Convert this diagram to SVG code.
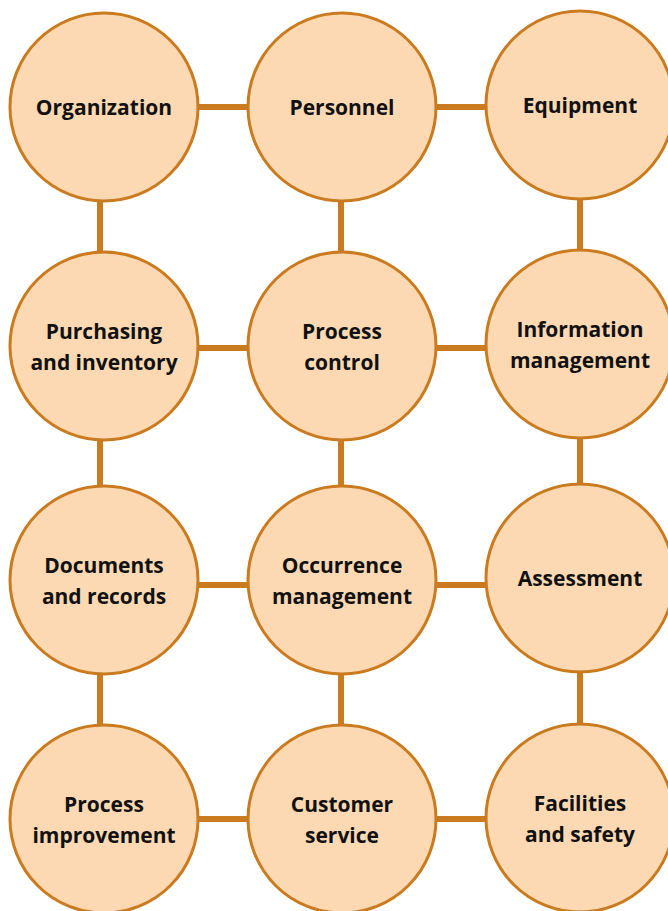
<svg xmlns="http://www.w3.org/2000/svg" width="668" height="911" viewBox="0 0 668 911">
<style>
.c{fill:#FCD9B3;stroke:#CB7B1F;stroke-width:3}
.l{stroke:#CB7B1F;stroke-width:6;fill:none}
text{font-family:"Open Sans","Noto Sans","Liberation Sans",sans-serif;font-weight:700;font-size:21px;fill:#111;text-anchor:middle}
</style>
<rect width="668" height="911" fill="#fff"/>
<g id="connectors" class="l">
<line x1="104" y1="107" x2="580" y2="107"/>
<line x1="104" y1="348" x2="580" y2="348"/>
<line x1="104" y1="585" x2="580" y2="585"/>
<line x1="104" y1="819" x2="580" y2="819"/>
<line x1="100" y1="107" x2="100" y2="819"/>
<line x1="341" y1="107" x2="341" y2="819"/>
<line x1="580" y1="105" x2="580" y2="818"/>
</g>
<g id="organization"><circle class="c" cx="104" cy="107" r="94"/><text x="104" y="115">Organization</text></g>
<g id="personnel"><circle class="c" cx="342" cy="107" r="94"/><text x="342" y="115">Personnel</text></g>
<g id="equipment"><circle class="c" cx="580" cy="105" r="94"/><text x="580" y="113">Equipment</text></g>
<g id="purchasing"><circle class="c" cx="104" cy="346" r="94"/><text x="104" y="339">Purchasing</text><text x="104" y="370">and inventory</text></g>
<g id="process-control"><circle class="c" cx="342" cy="346" r="94"/><text x="342" y="339">Process</text><text x="342" y="370">control</text></g>
<g id="information"><circle class="c" cx="580" cy="344" r="94"/><text x="580" y="337">Information</text><text x="580" y="368">management</text></g>
<g id="documents"><circle class="c" cx="104" cy="580" r="94"/><text x="104" y="573">Documents</text><text x="104" y="604">and records</text></g>
<g id="occurrence"><circle class="c" cx="342" cy="580" r="94"/><text x="342" y="573">Occurrence</text><text x="342" y="604">management</text></g>
<g id="assessment"><circle class="c" cx="580" cy="578" r="94"/><text x="580" y="586">Assessment</text></g>
<g id="process-improvement"><circle class="c" cx="104" cy="819" r="94"/><text x="104" y="812">Process</text><text x="104" y="843">improvement</text></g>
<g id="customer-service"><circle class="c" cx="342" cy="819" r="94"/><text x="342" y="812">Customer</text><text x="342" y="843">service</text></g>
<g id="facilities"><circle class="c" cx="580" cy="818" r="94"/><text x="580" y="811">Facilities</text><text x="580" y="842">and safety</text></g>
</svg>
